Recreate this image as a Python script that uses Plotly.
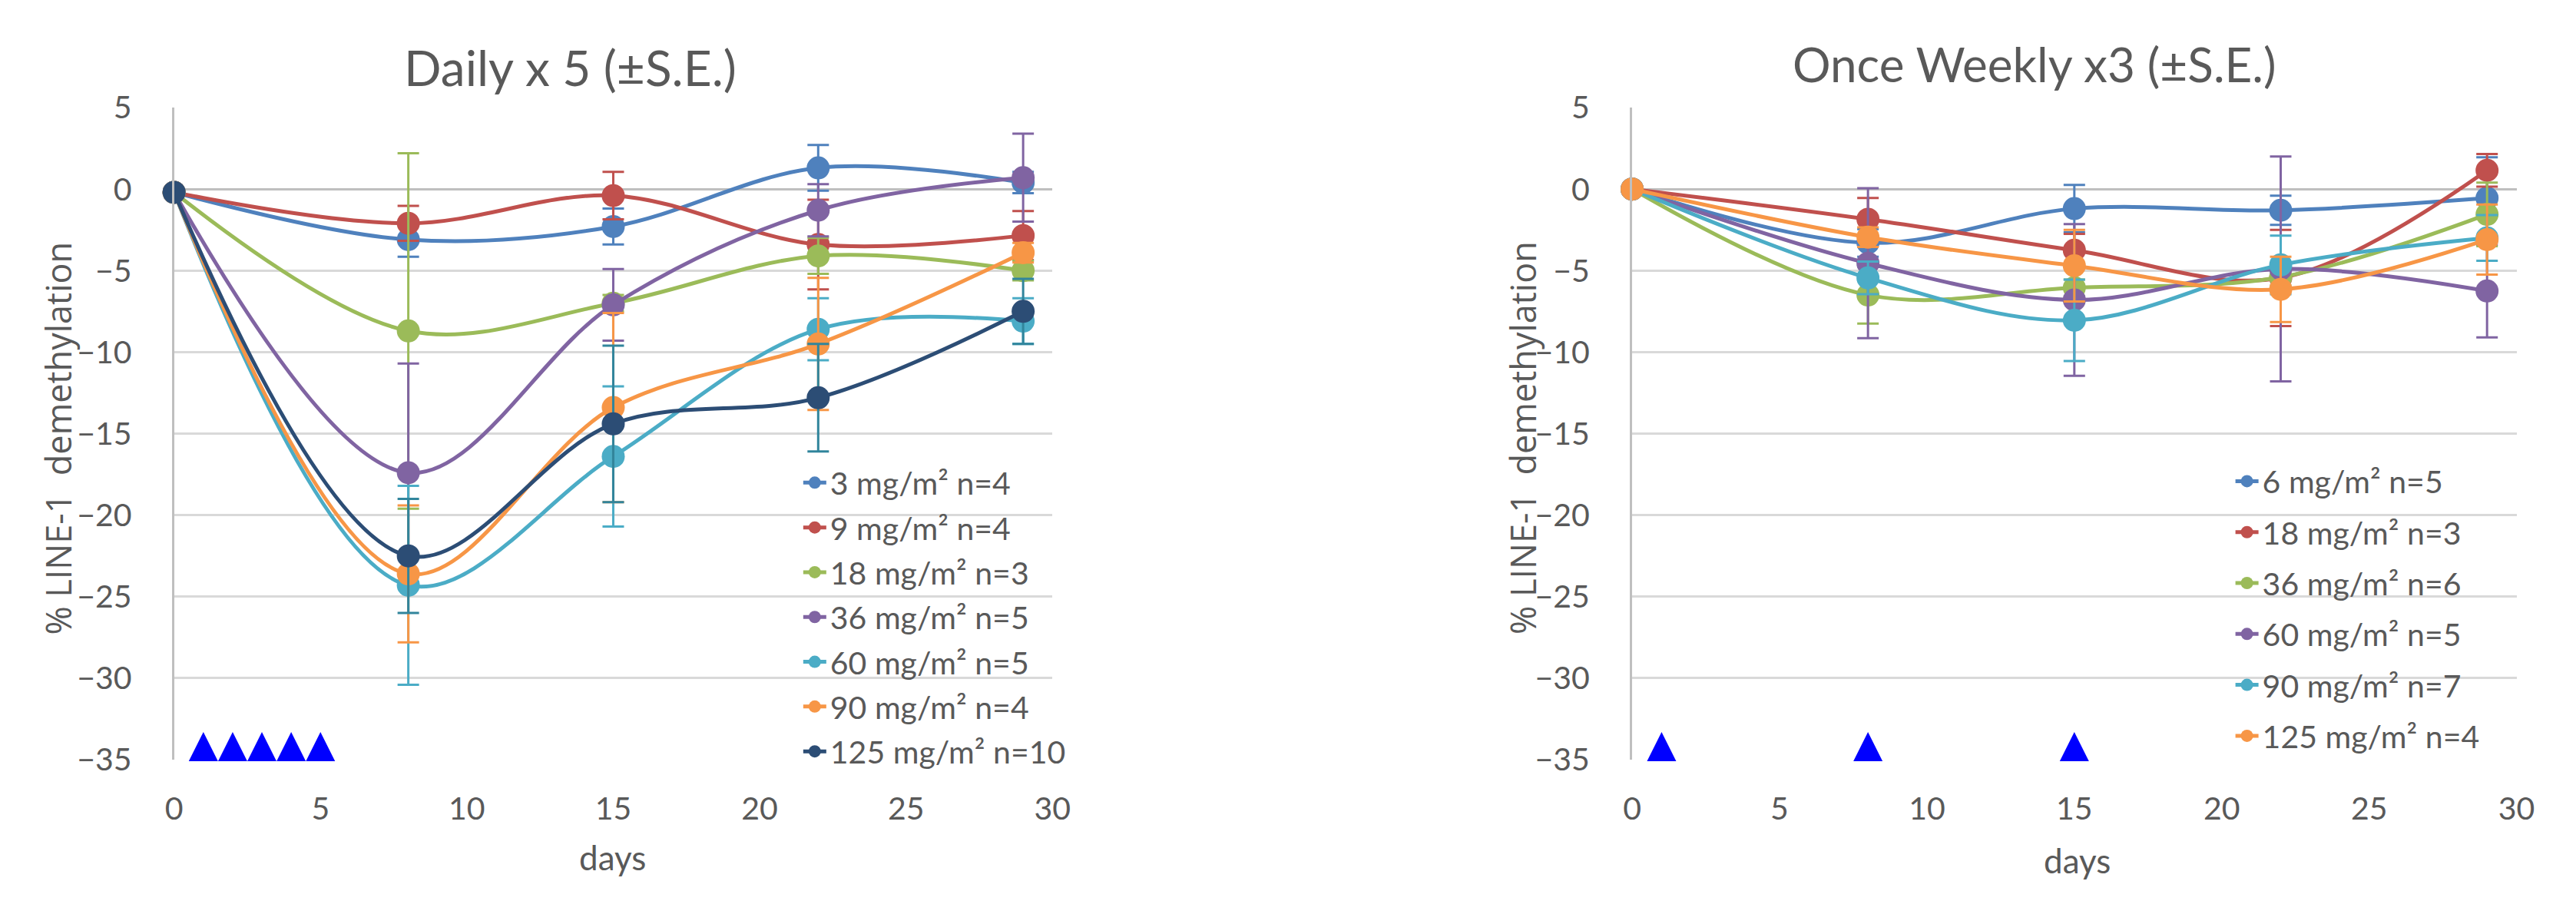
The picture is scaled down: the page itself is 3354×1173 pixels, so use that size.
import plotly.graph_objects as go

# ---------------- data ----------------
days = [0, 8, 15, 22, 29]

# Daily x 5 panel
daily_names = ["3 mg/m² n=4", "9 mg/m² n=4", "18 mg/m² n=3", "36 mg/m² n=5",
               "60 mg/m² n=5", "90 mg/m² n=4", "125 mg/m² n=10"]
daily_3 = [-0.2, -3.1, -2.3, 1.3, 0.4]
daily_9 = [-0.2, -2.1, -0.4, -3.4, -2.85]
daily_18 = [-0.2, -8.7, -7.0, -4.1, -5.0]
daily_36 = [-0.2, -17.4, -7.1, -1.3, 0.7]
daily_60 = [-0.2, -24.3, -16.4, -8.6, -8.1]
daily_90 = [-0.2, -23.6, -13.4, -9.5, -3.9]
daily_125 = [-0.2, -22.5, -14.4, -12.8, -7.5]
daily_se_3 = [0, 1.05, 1.1, 1.4, 0.65]
daily_se_9 = [0, 1.07, 1.45, 2.75, 1.5]
daily_se_18 = [0, 10.9, 0.5, 1.1, 0.6]
daily_se_36 = [0, 6.7, 2.2, 1.6, 2.7]
daily_se_60 = [0, 6.1, 4.3, 1.9, 1.4]
daily_se_90 = [0, 4.2, 5.8, 4.05, 0.6]
daily_se_125 = [0, 3.5, 4.8, 3.3, 2.0]
daily_dose_days = [1, 2, 3, 4, 5]

# Once weekly x3 panel
weekly_names = ["6 mg/m² n=5", "18 mg/m² n=3", "36 mg/m² n=6",
                "60 mg/m² n=5", "90 mg/m² n=7", "125 mg/m² n=4"]
weekly_6 = [0, -3.3, -1.2, -1.3, -0.55]
weekly_18 = [0, -1.85, -3.75, -5.45, 1.15]
weekly_36 = [0, -6.5, -6.05, -5.4, -1.55]
weekly_60 = [0, -4.55, -6.8, -4.9, -6.25]
weekly_90 = [0, -5.45, -8.05, -4.65, -3.0]
weekly_125 = [0, -2.95, -4.7, -6.15, -3.1]
weekly_se_6 = [0, 0.85, 1.45, 0.9, 2.5]
weekly_se_18 = [0, 1.3, 1.0, 2.95, 1.0]
weekly_se_36 = [0, 1.75, 0.5, 0.5, 1.95]
weekly_se_60 = [0, 4.6, 4.65, 6.9, 2.85]
weekly_se_90 = [0, 1.0, 2.5, 1.8, 1.4]
weekly_se_125 = [0, 0.6, 2.2, 2.0, 2.15]
weekly_dose_days = [1, 8, 15]

dose_level = -33.3
y_ticks = [5, 0, -5, -10, -15, -20, -25, -30, -35]
x_ticks = [0, 5, 10, 15, 20, 25, 30]

# ---------------- styles ----------------
BLUE, RED, GREEN, PURPLE = "#4F81BD", "#C0504D", "#9BBB59", "#8064A2"
CYAN, ORANGE, NAVY, TEAL = "#4BACC6", "#F79646", "#2C4D75", "#31859C"
TXT = "#595959"
FONT = "Lato"
W, H = 3354, 1173

daily_series = [
    (daily_names[0], daily_3, daily_se_3, BLUE, BLUE),
    (daily_names[1], daily_9, daily_se_9, RED, RED),
    (daily_names[2], daily_18, daily_se_18, GREEN, GREEN),
    (daily_names[3], daily_36, daily_se_36, PURPLE, PURPLE),
    (daily_names[4], daily_60, daily_se_60, CYAN, CYAN),
    (daily_names[5], daily_90, daily_se_90, ORANGE, ORANGE),
    (daily_names[6], daily_125, daily_se_125, NAVY, TEAL),
]
weekly_series = [
    (weekly_names[0], weekly_6, weekly_se_6, BLUE, BLUE),
    (weekly_names[1], weekly_18, weekly_se_18, RED, RED),
    (weekly_names[2], weekly_36, weekly_se_36, GREEN, GREEN),
    (weekly_names[3], weekly_60, weekly_se_60, PURPLE, PURPLE),
    (weekly_names[4], weekly_90, weekly_se_90, CYAN, CYAN),
    (weekly_names[5], weekly_125, weekly_se_125, ORANGE, ORANGE),
]

fig = go.Figure()


def add_panel(series, xa, ya, legend_name, dose_days):
    for i, (name, vals, se, col, ecol) in enumerate(series):
        fig.add_trace(go.Scatter(
            x=days, y=vals, name=name, mode="lines+markers",
            xaxis=xa, yaxis=ya, legend=legend_name, legendgroup=f"{legend_name}_{i}",
            line=dict(color=col, width=5, shape="spline", smoothing=1.0),
            marker=dict(color=col, size=30),
            error_y=dict(type="data", array=se, visible=True, color=ecol,
                         thickness=3, width=14),
            cliponaxis=False,
        ))
    fig.add_trace(go.Scatter(
        x=dose_days, y=[dose_level] * len(dose_days), mode="markers",
        xaxis=xa, yaxis=ya, showlegend=False, hoverinfo="skip",
        marker=dict(symbol="arrow-up", size=38, color="#0000FF"),
        cliponaxis=False,
    ))


add_panel(daily_series, "x", "y", "legend", daily_dose_days)
add_panel(weekly_series, "x2", "y2", "legend2", weekly_dose_days)

ydom = [1 - 1005 / H, 1 - 119 / H]
xaxis_common = dict(range=[0, 30], tickvals=x_ticks, showgrid=False, zeroline=False,
                    showline=False, ticks="", ticklabelstandoff=36,
                    tickfont=dict(family=FONT, size=41, color=TXT), fixedrange=True)
yaxis_common = dict(range=[-35, 5], tickvals=y_ticks, showgrid=True, gridcolor="#D9D9D9",
                    gridwidth=3, zeroline=True, zerolinecolor="#BFBFBF", zerolinewidth=3,
                    showline=True, linecolor="#BFBFBF", linewidth=3, ticks="",
                    ticklabelstandoff=44, domain=ydom,
                    tickfont=dict(family=FONT, size=41, color=TXT), fixedrange=True)

fig.update_layout(
    width=W, height=H,
    margin=dict(l=0, r=0, t=0, b=0),
    paper_bgcolor="white", plot_bgcolor="white",
    xaxis=dict(domain=[217 / W, 1373 / W], anchor="y", **xaxis_common),
    yaxis=dict(anchor="x", **yaxis_common),
    xaxis2=dict(domain=[2136 / W, 3300 / W], anchor="y2", **xaxis_common),
    yaxis2=dict(anchor="x2", **yaxis_common),
    legend=dict(x=1040 / W, y=1 - 594 / H, xanchor="left", yanchor="top",
                bgcolor="rgba(0,0,0,0)", font=dict(family=FONT, size=41, color=TXT),
                tracegroupgap=2, traceorder="grouped"),
    legend2=dict(x=2925 / W, y=1 - 592 / H, xanchor="left", yanchor="top",
                 bgcolor="rgba(0,0,0,0)", font=dict(family=FONT, size=41, color=TXT),
                 tracegroupgap=10, traceorder="grouped"),
    showlegend=True,
)

annotations = [
    dict(text="Daily x 5 (±S.E.)", x=738 / W, y=1 - 64 / H, size=64),
    dict(text="Once Weekly x3 (±S.E.)", x=2666 / W, y=1 - 60 / H, size=62),
    dict(text="days", x=794 / W, y=1 - 1138 / H, size=44),
    dict(text="days", x=2722 / W, y=1 - 1142 / H, size=44),
]
for a in annotations:
    fig.add_annotation(text=a["text"], x=a["x"], y=a["y"], xref="paper", yref="paper",
                       xanchor="center", yanchor="middle", showarrow=False,
                       font=dict(family=FONT, size=a["size"], color=TXT))
for xpos in (64, 1992):
    fig.add_annotation(text="% LINE-1  demethylation", x=xpos / W, y=1 - 568 / H,
                       xref="paper", yref="paper", xanchor="center", yanchor="middle",
                       showarrow=False, textangle=-90,
                       font=dict(family="Open Sans", size=45, color=TXT))

fig.write_html("out.html", config={"displayModeBar": False},
               post_script="document.body.style.margin='0';")
